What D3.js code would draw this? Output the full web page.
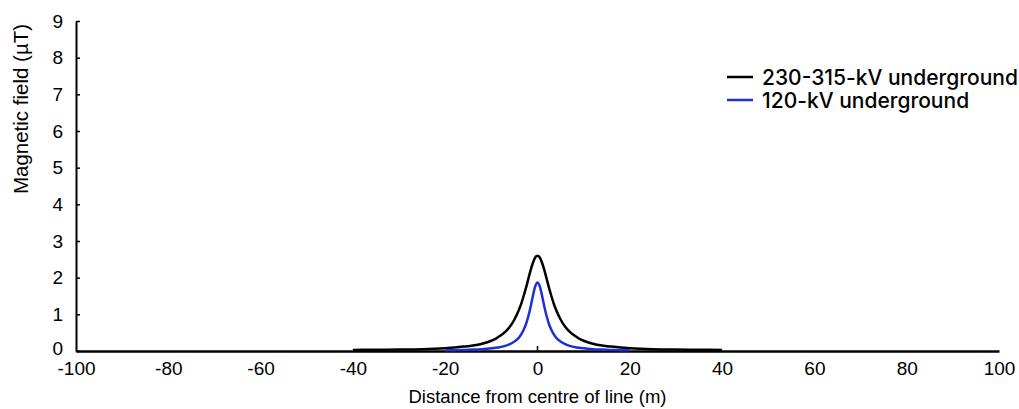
<!DOCTYPE html>
<html>
<head>
    <script src="https://d3js.org/d3.v7.min.js"></script>
    <style>
        body { margin: 0; background: #fff; }
        text { font-family: "Liberation Sans", Arial, sans-serif; }
        .legend text { font-family: Inter, "Noto Sans", sans-serif; font-weight: 500; }
    </style>
</head>
<body>
    <div id="chart"></div>
    <script>
        const xTicks = [-100, -80, -60, -40, -20, 0, 20, 40, 60, 80, 100];
        const yTicks = [0, 1, 2, 3, 4, 5, 6, 7, 8, 9];

        // 230-315-kV underground
        const dist230 = [-40, -35, -30, -25, -20, -18, -16, -14, -12, -10, -9, -8, -7, -6, -5, -4, -3.5, -3, -2.5, -2, -1.5, -1, -0.5, 0,
                         0.5, 1, 1.5, 2, 2.5, 3, 3.5, 4, 5, 6, 7, 8, 9, 10, 12, 14, 16, 18, 20, 25, 30, 35, 40];
        const field230 = [0.03, 0.035, 0.04, 0.05, 0.077, 0.095, 0.12, 0.15, 0.2, 0.28, 0.34, 0.42, 0.52, 0.66, 0.86, 1.13, 1.3, 1.5, 1.72, 1.96, 2.2, 2.4, 2.55, 2.6,
                          2.55, 2.4, 2.2, 1.96, 1.72, 1.5, 1.3, 1.13, 0.86, 0.66, 0.52, 0.42, 0.34, 0.28, 0.2, 0.15, 0.12, 0.095, 0.077, 0.05, 0.04, 0.035, 0.03];

        // 120-kV underground
        const dist120 = [-20, -18, -16, -14, -12, -10, -9, -8, -7, -6, -5, -4, -3.5, -3, -2.5, -2, -1.5, -1, -0.5, 0,
                         0.5, 1, 1.5, 2, 2.5, 3, 3.5, 4, 5, 6, 7, 8, 9, 10, 12, 14, 16, 18, 20];
        const field120 = [0.02, 0.023, 0.029, 0.038, 0.05, 0.072, 0.088, 0.11, 0.14, 0.19, 0.26, 0.37, 0.46, 0.58, 0.73, 0.94, 1.2, 1.5, 1.76, 1.87,
                          1.76, 1.5, 1.2, 0.94, 0.73, 0.58, 0.46, 0.37, 0.26, 0.19, 0.14, 0.11, 0.088, 0.072, 0.05, 0.038, 0.029, 0.023, 0.02];

        const seriesNames = ["230-315-kV underground", "120-kV underground"];
        const seriesColors = ["#000000", "#1f2fd6"];

        const width = 1019, height = 409;

        const svg = d3.select("#chart").append("svg")
            .attr("width", width)
            .attr("height", height);

        const x = d3.scaleLinear().domain([-100, 100]).range([76, 999]);
        const y = d3.scaleLinear().domain([0, 9]).range([351, 21]);

        // x axis
        const xAxis = svg.append("g")
            .attr("transform", `translate(0,${y(0)})`)
            .call(d3.axisBottom(x).tickValues(xTicks).tickSize(0).tickPadding(11).tickFormat(d => d.toString()));
        xAxis.select(".domain").attr("stroke", "#000").attr("stroke-width", 2.5);
        xAxis.selectAll("text").attr("font-size", 19).attr("fill", "#000");

        // small tick at zero
        svg.append("line")
            .attr("x1", x(0)).attr("x2", x(0))
            .attr("y1", y(0)).attr("y2", y(0) - 5)
            .attr("stroke", "#000").attr("stroke-width", 1.5);

        // y axis
        const yAxis = svg.append("g")
            .attr("transform", `translate(${x(-100)},0)`)
            .call(d3.axisLeft(y).tickValues(yTicks).tickSizeInner(-4).tickSizeOuter(0).tickPadding(13));
        yAxis.select(".domain").attr("stroke", "#000").attr("stroke-width", 2);
        yAxis.selectAll(".tick line").attr("stroke", "#000").attr("stroke-width", 1.5);
        yAxis.selectAll("text").attr("font-size", 19).attr("fill", "#000");
        yAxis.selectAll(".tick").filter(d => d === 0).select("text").attr("dy", "0.2em");

        // axis titles
        svg.append("text")
            .attr("x", (x(-100) + x(100)) / 2)
            .attr("y", 403)
            .attr("text-anchor", "middle")
            .attr("font-size", 18.5)
            .text("Distance from centre of line (m)");

        svg.append("text")
            .attr("transform", "translate(28,109) rotate(-90)")
            .attr("text-anchor", "middle")
            .attr("font-size", 20.5)
            .text("Magnetic field (µT)");

        const line = d3.line()
            .x(d => x(d[0]))
            .y(d => y(d[1]))
            .curve(d3.curveMonotoneX);

        svg.append("path")
            .datum(d3.zip(dist230, field230))
            .attr("fill", "none")
            .attr("stroke", seriesColors[0])
            .attr("stroke-width", 2.5)
            .attr("d", line);

        svg.append("path")
            .datum(d3.zip(dist120, field120))
            .attr("fill", "none")
            .attr("stroke", seriesColors[1])
            .attr("stroke-width", 2.5)
            .attr("d", line);

        // legend
        const legend = svg.append("g").attr("class", "legend");
        seriesNames.forEach((name, i) => {
            const ly = 77 + i * 23;
            legend.append("line")
                .attr("x1", 727).attr("x2", 753)
                .attr("y1", ly).attr("y2", ly)
                .attr("stroke", seriesColors[i]).attr("stroke-width", 2.5);
            legend.append("text")
                .attr("x", 762).attr("y", ly + 8)
                .attr("font-size", 21)
                .attr("fill", "#000")
                .text(name);
        });
    </script>
</body>
</html>
